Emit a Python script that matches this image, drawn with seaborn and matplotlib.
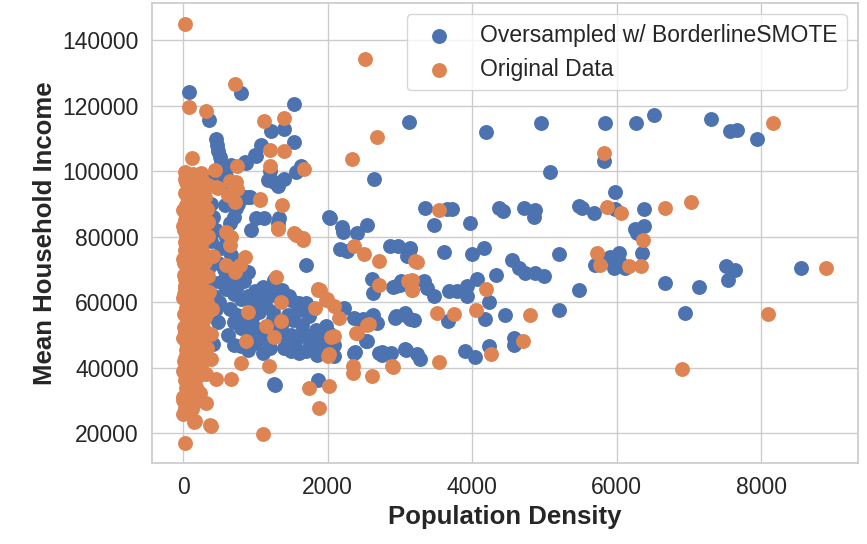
import seaborn as sns
import pandas as pd
from matplotlib import pyplot as plt

# values (population density, mean household income)
smote_points = [
    (78, 124200), (805, 123800), (359, 115500), (1530, 120600), (1220, 112200), (1394, 112700),
    (451, 109700), (470, 108000), (490, 106200), (510, 104400), (530, 102600), (550, 100900),
    (570, 99300), (598, 98600), (1530, 108900), (1085, 107800), (989, 104800), (851, 102750),
    (1012, 104600), (874, 102600), (1205, 100100), (1632, 101600), (1563, 99600), (1402, 97600),
    (1264, 96600), (1310, 95500), (1180, 97200), (368, 97100), (667, 101800), (552, 98800),
    (906, 92000), (851, 92200), (736, 88600), (575, 89600), (920, 92200), (1012, 85800),
    (1127, 85800), (1334, 85600), (1310, 84200), (943, 82000), (2023, 85900), (2037, 85560),
    (2212, 81500), (2405, 81000), (2543, 83540), (2198, 82900), (2648, 97500),
    (391, 78500), (529, 76400), (667, 74400), (805, 72400), (897, 69300), (1702, 71400), (1265, 66800),
    (3124, 115050), (4198, 111900), (4958, 114750), (5843, 114750), (6272, 114750), (6521, 117070),
    (7304, 115960), (7571, 112200), (7663, 112530), (7940, 109900), (5820, 102930), (5083, 99800),
    (5981, 93740), (3346, 88700), (3654, 88290), (3724, 88290), (3470, 83440), (3977, 84250),
    (4369, 88700), (4429, 87680), (4714, 88700), (4876, 87980), (4862, 85960), (5475, 89300),
    (5521, 88700), (5682, 87280), (5981, 88500), (6373, 88500), (6258, 82430), (6382, 83240),
    (6281, 81000), (2175, 76160), (2267, 75450), (2865, 77170), (2980, 76970), (3141, 76160),
    (3104, 73940), (3147, 76450), (3124, 74100), (3608, 75430), (4000, 74720), (4161, 76450),
    (4553, 72900), (4645, 70360), (4737, 68830), (4876, 68830), (5000, 68020), (5207, 74620),
    (5475, 63560), (5198, 57670), (5696, 71370), (5912, 73900), (6028, 74920), (6350, 74920),
    (5958, 70360), (6120, 70360), (6040, 72000), (6673, 65790), (7133, 64570), (7516, 70870),
    (7640, 69650), (7548, 66800), (8553, 70360), (6949, 56650),
    (2612, 67070), (2635, 62830), (2911, 64650), (3003, 65350), (2940, 64770), (3010, 66300),
    (3332, 66300), (3378, 64260), (3470, 61730), (3677, 63250), (3793, 63250), (3931, 64770),
    (3931, 61730), (4069, 67000), (4332, 68330), (4240, 59900),
    (2221, 58270), (2359, 55250), (2497, 54750), (2635, 55960), (2681, 53740), (2934, 55250),
    (3072, 56560), (3141, 54750), (2940, 55640), (3078, 56150), (3194, 54620), (3664, 54120),
    (4175, 54820), (4461, 56150), (2543, 48180), (3072, 45660), (3233, 44150), (2382, 44650),
    (2750, 44650), (3092, 45490), (3277, 42650), (3908, 44980), (4037, 43250), (4230, 46500),
    (4576, 49040), (4576, 47000), (2874, 44470), (2713, 44470), (2759, 43960), (2368, 44470),
    (2529, 48030), (2460, 54620), (2621, 55640),
    (600, 64000), (700, 62500), (800, 61000), (900, 62000), (1000, 63500), (1100, 64500),
    (1200, 63000), (1300, 62000), (1400, 61500), (1500, 60500), (1600, 59700), (1700, 59000),
    (1800, 58000), (1563, 59700), (1701, 59700), (1747, 55640), (1370, 63760), (1471, 61730),
    (1609, 57670), (1517, 54620), (650, 58000), (750, 56000), (850, 54000), (950, 55000),
    (1050, 57000), (1150, 58500), (1250, 57000), (1000, 52000), (900, 50000), (800, 52000),
    (700, 54000), (620, 50000), (700, 47000), (800, 46500), (900, 45500), (1000, 47500),
    (1100, 49000), (1200, 51000), (1300, 50500), (1400, 50000), (1500, 50000), (1600, 49500),
    (1700, 50000), (1800, 49000), (1900, 47000), (2000, 46000), (1977, 52600), (1931, 50560),
    (2023, 50560), (2092, 47010), (1839, 51580), (1793, 46500), (1400, 46000), (1500, 45000),
    (1600, 44500), (1700, 45000), (1850, 44000), (2092, 43660), (1200, 46000), (1100, 44500),
    (414, 47200), (1278, 34830), (1862, 36350), (1265, 34900),
    (380, 90000), (420, 86000), (450, 82000), (350, 70000), (400, 66000), (430, 62000),
    (460, 58000), (480, 54000), (500, 60000), (520, 66000), (560, 70000), (600, 68000),
    (640, 66000), (480, 72000), (600, 80000), (650, 84000), (700, 86000), (760, 90000), (540, 95000),
    (750, 64800), (850, 66300), (950, 59200), (1050, 60800), (1150, 61300), (1250, 54700),
    (1350, 52300), (1450, 56200), (1550, 47800), (1650, 53100), (1750, 47300), (1950, 49400),
]

original_points = [
    (32, 144850), (2515, 134240), (722, 126570), (83, 119600), (322, 118400), (1127, 115250),
    (1393, 116060), (2681, 110510), (2331, 103640), (129, 103840), (1205, 106400), (1393, 106170),
    (745, 101620), (1205, 101400), (1678, 100600), (23, 99600), (138, 99100), (253, 99400),
    (46, 96570), (460, 95260), (644, 97080), (745, 94550), (1071, 91520), (1366, 89700),
    (713, 90510), (1058, 91200), (437, 100300), (483, 94700), (621, 92700), (736, 96700),
    (1311, 82500), (1541, 81000), (1656, 79500), (1288, 67800), (851, 73900), (782, 71400),
    (713, 69300), (598, 71400), (598, 81500), (667, 80000), (644, 77500), (1310, 82230),
    (1563, 80510), (1655, 78990),
    (2359, 76970), (2510, 74750), (2713, 72400), (3210, 72400), (2718, 65350), (3118, 66400),
    (3164, 63840), (1900, 63840), (1991, 60800), (2092, 58780), (2152, 55250), (2580, 53230),
    (2405, 50710), (2092, 49700), (2014, 44150),
    (8170, 114550), (5820, 105360), (3539, 87980), (5866, 89000), (6064, 87280), (6673, 88700),
    (7032, 90510), (6364, 78980), (3240, 72390), (5728, 74920), (5765, 71370), (6166, 70870),
    (6336, 71070), (8898, 70360), (8092, 56450), (6908, 39600),
    (3170, 66800), (3170, 63760), (4198, 63960), (3516, 56650), (3747, 56450), (4055, 57470),
    (4806, 56150), (3539, 41630), (4267, 44170), (4700, 48030), (2908, 40210), (2888, 40420),
    (2612, 37370), (2354, 38390), (2345, 40420), (2391, 50560), (2552, 53100),
    (897, 56900), (1357, 60000), (1357, 54350), (1150, 52800), (1265, 49200), (874, 48200),
    (391, 42560), (796, 41500), (1196, 40500), (460, 36400), (667, 36400), (1863, 64100),
    (2047, 49200), (2000, 43600), (1748, 33800), (1886, 27700), (2024, 34350), (1104, 19610),
    (382, 22150), (152, 23370), (0, 25700), (322, 29250), (230, 32300), (23, 17070),
    (161, 23600), (368, 22550), (1862, 63760), (1825, 58180), (1977, 60720),
    (0, 88000), (55, 86500), (125, 84200), (185, 81700), (235, 80300), (30, 78400),
    (95, 76200), (150, 73800), (215, 72300), (265, 70100), (10, 68400), (75, 66200),
    (130, 63800), (195, 61900), (245, 60300), (40, 58200), (105, 55700), (160, 54300),
    (215, 51800), (285, 50200), (20, 48300), (85, 45900), (140, 44200), (205, 41800),
    (255, 40300), (50, 38200), (110, 35800), (175, 34100), (225, 31900), (0, 30200),
    (65, 28100), (120, 27300), (30, 93200), (95, 91100), (170, 88800), (245, 87100),
    (300, 85300), (0, 83100), (70, 80900), (145, 79200), (210, 76800), (280, 75100),
    (0, 73200), (60, 70800), (115, 69100), (180, 67200), (240, 64800), (300, 63100),
    (0, 61200), (55, 59100), (120, 56800), (185, 55200), (235, 53100), (305, 51200),
    (0, 49100), (60, 46800), (125, 45100), (180, 42900), (240, 41200), (0, 39100),
    (55, 36800), (125, 35200), (185, 33100), (0, 31100), (60, 29200), (10, 52300),
    (10, 42100), (10, 62400), (10, 71800), (10, 81900), (200, 95300), (350, 80200),
    (350, 68100), (400, 57900), (380, 50200), (330, 46100), (320, 38200), (420, 74200),
    (300, 92100), (260, 97200), (90, 64300), (150, 48700), (270, 58200), (330, 60100),
    (40, 33800), (90, 40300), (160, 38400), (270, 44700), (210, 47600), (60, 53700),
    # extra points filling the dense column near zero density
    (20, 97600), (110, 95700), (190, 92400), (270, 90100), (40, 89700), (130, 87600),
    (210, 85400), (20, 85100), (90, 83300), (160, 82100), (260, 82600), (40, 80200),
    (110, 78300), (190, 77900), (250, 76600), (20, 75800), (80, 74100), (170, 71200),
    (240, 69300), (30, 67100), (100, 67900), (160, 65600), (220, 63300), (30, 64300),
    (110, 61500), (170, 59700), (220, 57600), (15, 56300), (80, 57800), (150, 57900),
    (200, 53600), (270, 54300), (30, 51200), (100, 50700), (170, 51100), (250, 49100),
    (40, 45500), (100, 47900), (190, 45900), (240, 44300), (30, 42900), (110, 42700),
    (170, 41100), (20, 36200), (80, 37400), (150, 36600), (210, 37300), (100, 33100),
    (150, 31000), (30, 27600), (90, 30500), (190, 29700), (20, 64900), (140, 70300),
    (60, 92300), (140, 93900), (230, 91900), (330, 88400), (310, 72100), (300, 55600),
    (360, 63100), (280, 66900), (290, 79200), (340, 84600), (130, 97500), (350, 95600),
]

smote = pd.DataFrame(smote_points, columns=["density", "income"])
original = pd.DataFrame(original_points, columns=["density", "income"])

sns.set_theme(style="whitegrid", font_scale=1.5)
plt.rcParams["font.family"] = ["Liberation Sans", "DejaVu Sans"]

fig = plt.figure(figsize=(8.67, 5.44), dpi=100)
ax = fig.add_axes([0.1753, 0.149, 0.8143, 0.8455])

sns.scatterplot(data=smote, x="density", y="income", ax=ax, color="#4c72b0",
                s=115, linewidth=0, label="Oversampled w/ BorderlineSMOTE")
sns.scatterplot(data=original, x="density", y="income", ax=ax, color="#dd8452",
                s=115, linewidth=0, label="Original Data")

ax.set_xlim(-430, 9340)
ax.set_ylim(10900, 151300)
ax.set_xticks([0, 2000, 4000, 6000, 8000])
ax.set_yticks([20000, 40000, 60000, 80000, 100000, 120000, 140000])
ax.tick_params(labelsize=16.5, colors="#262626")

ax.set_xlabel("Population Density", fontsize=18.5, fontweight="bold")
ax.set_ylabel("Mean Household Income", fontsize=18.5, fontweight="bold")

ax.legend(loc="upper right", fontsize=16.5)

fig.savefig("out.png", dpi=100)
